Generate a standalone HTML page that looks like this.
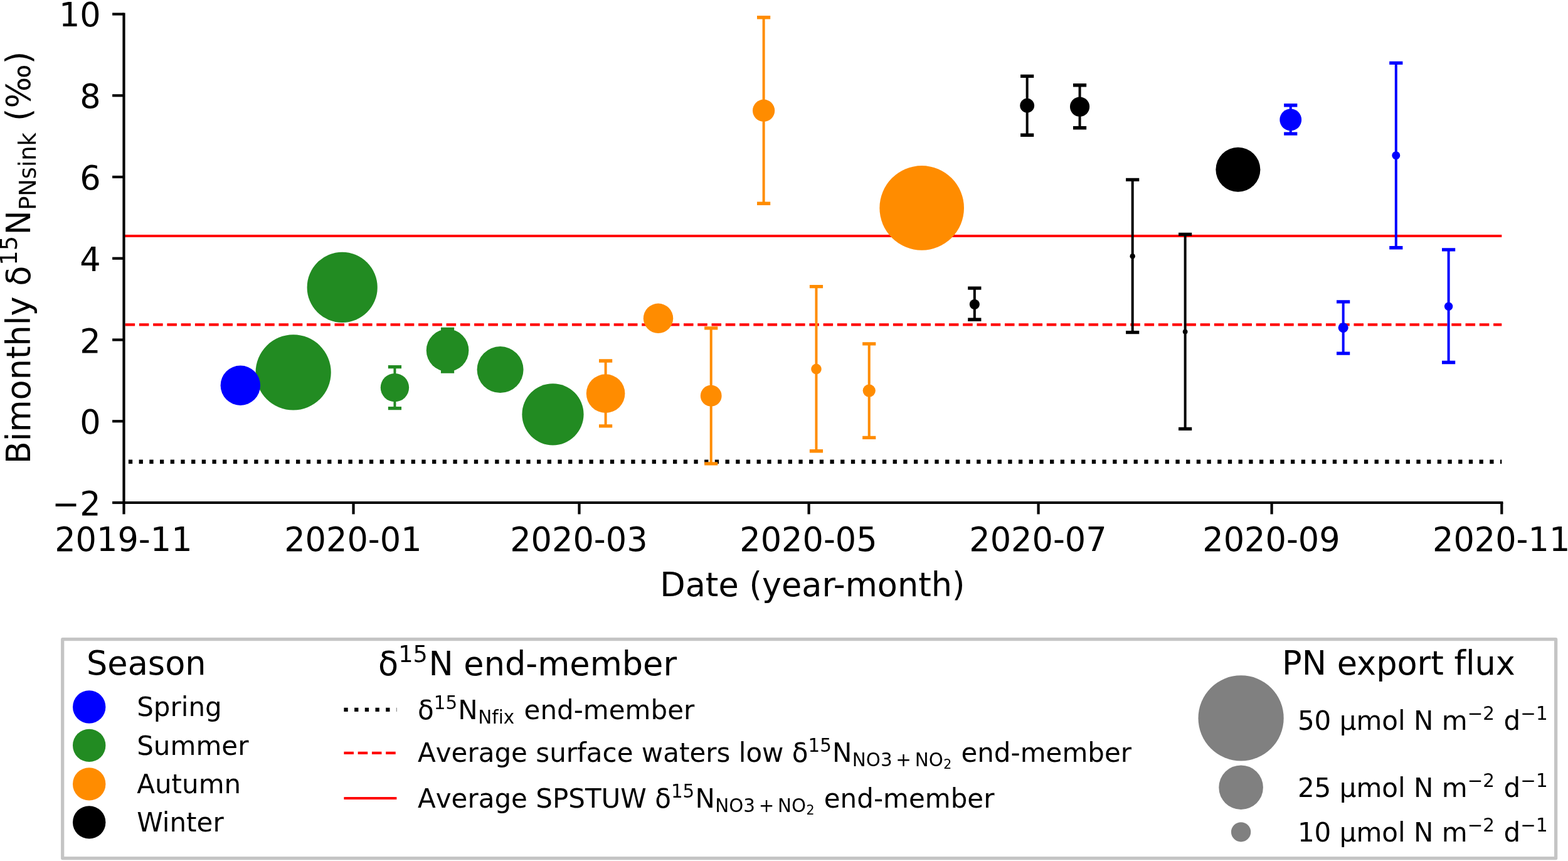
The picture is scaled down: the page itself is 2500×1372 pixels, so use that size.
<!DOCTYPE html>
<html lang="en"><head><meta charset="utf-8"><title>Bimonthly δ15N PNsink</title>
<style>html,body{margin:0;padding:0;background:#fff;overflow:hidden}svg{display:block}text{font-family:'DejaVu Sans', 'Liberation Sans', sans-serif;fill:#000;font-variant-ligatures:none;font-feature-settings:"liga" 0,"clig" 0}.m{font-kerning:none}</style>
</head><body>
<svg width="2500" height="1372" viewBox="0 0 2500 1372">
<rect x="0" y="0" width="2500" height="1372" fill="#ffffff"/>
<g fill="none">
<line x1="197.50" y1="376.0" x2="2394.30" y2="376.0" stroke="#ff0000" stroke-width="4.20"/>
<line x1="199.6" y1="517.3" x2="2394.30" y2="517.3" stroke="#ff0000" stroke-width="4.20" stroke-dasharray="15.54 6.72"/>
<line x1="204.9" y1="735.75" x2="2394.30" y2="735.75" stroke="#000000" stroke-width="6.3" stroke-dasharray="6.3 10.395"/>
</g>
<g fill="none">
<path d="M629.45 584.60V650.60" stroke="#228b22" stroke-width="4.00"/>
<path d="M618.85 584.60h21.20M618.85 650.60h21.20" stroke="#228b22" stroke-width="5.35"/>
<path d="M713.55 524.50V592.10" stroke="#228b22" stroke-width="4.00"/>
<path d="M702.95 524.50h21.20M702.95 592.10h21.20" stroke="#228b22" stroke-width="5.35"/>
<path d="M965.61 575.00V678.90" stroke="#ff8c00" stroke-width="4.00"/>
<path d="M955.01 575.00h21.20M955.01 678.90h21.20" stroke="#ff8c00" stroke-width="5.35"/>
<path d="M1133.72 522.80V738.80" stroke="#ff8c00" stroke-width="4.00"/>
<path d="M1123.12 522.80h21.20M1123.12 738.80h21.20" stroke="#ff8c00" stroke-width="5.35"/>
<path d="M1217.62 27.75V324.20" stroke="#ff8c00" stroke-width="4.00"/>
<path d="M1207.02 27.75h21.20M1207.02 324.20h21.20" stroke="#ff8c00" stroke-width="5.35"/>
<path d="M1301.48 456.60V718.70" stroke="#ff8c00" stroke-width="4.00"/>
<path d="M1290.88 456.60h21.20M1290.88 718.70h21.20" stroke="#ff8c00" stroke-width="5.35"/>
<path d="M1385.73 547.90V697.30" stroke="#ff8c00" stroke-width="4.00"/>
<path d="M1375.13 547.90h21.20M1375.13 697.30h21.20" stroke="#ff8c00" stroke-width="5.35"/>
<path d="M1553.84 459.10V509.20" stroke="#000000" stroke-width="4.00"/>
<path d="M1543.24 459.10h21.20M1543.24 509.20h21.20" stroke="#000000" stroke-width="5.35"/>
<path d="M1637.66 121.30V215.20" stroke="#000000" stroke-width="4.00"/>
<path d="M1627.07 121.30h21.20M1627.07 215.20h21.20" stroke="#000000" stroke-width="5.35"/>
<path d="M1721.57 135.70V203.75" stroke="#000000" stroke-width="4.00"/>
<path d="M1710.97 135.70h21.20M1710.97 203.75h21.20" stroke="#000000" stroke-width="5.35"/>
<path d="M1805.70 286.30V529.60" stroke="#000000" stroke-width="4.00"/>
<path d="M1795.10 286.30h21.20M1795.10 529.60h21.20" stroke="#000000" stroke-width="5.35"/>
<path d="M1889.65 373.30V683.40" stroke="#000000" stroke-width="4.00"/>
<path d="M1879.05 373.30h21.20M1879.05 683.40h21.20" stroke="#000000" stroke-width="5.35"/>
<path d="M2057.76 167.70V213.10" stroke="#0000ff" stroke-width="4.00"/>
<path d="M2047.16 167.70h21.20M2047.16 213.10h21.20" stroke="#0000ff" stroke-width="5.35"/>
<path d="M2141.66 480.90V563.05" stroke="#0000ff" stroke-width="4.00"/>
<path d="M2131.06 480.90h21.20M2131.06 563.05h21.20" stroke="#0000ff" stroke-width="5.35"/>
<path d="M2225.81 100.40V394.70" stroke="#0000ff" stroke-width="4.00"/>
<path d="M2215.21 100.40h21.20M2215.21 394.70h21.20" stroke="#0000ff" stroke-width="5.35"/>
<path d="M2309.62 397.80V577.50" stroke="#0000ff" stroke-width="4.00"/>
<path d="M2299.02 397.80h21.20M2299.02 577.50h21.20" stroke="#0000ff" stroke-width="5.35"/>
</g>
<g>
<circle cx="467.64" cy="593.40" r="60.10" fill="#228b22"/>
<circle cx="545.67" cy="457.90" r="56.10" fill="#228b22"/>
<circle cx="629.45" cy="617.60" r="22.70" fill="#228b22"/>
<circle cx="713.55" cy="558.30" r="33.80" fill="#228b22"/>
<circle cx="797.56" cy="589.10" r="37.00" fill="#228b22"/>
<circle cx="881.46" cy="660.30" r="49.10" fill="#228b22"/>
<circle cx="965.61" cy="627.10" r="30.80" fill="#ff8c00"/>
<circle cx="1049.52" cy="507.30" r="23.70" fill="#ff8c00"/>
<circle cx="1133.72" cy="630.70" r="16.90" fill="#ff8c00"/>
<circle cx="1217.62" cy="176.20" r="17.60" fill="#ff8c00"/>
<circle cx="1301.48" cy="588.10" r="8.30" fill="#ff8c00"/>
<circle cx="1385.73" cy="622.60" r="10.10" fill="#ff8c00"/>
<circle cx="1469.68" cy="331.40" r="67.30" fill="#ff8c00"/>
<circle cx="1553.84" cy="484.95" r="8.05" fill="#000000"/>
<circle cx="1637.66" cy="168.20" r="11.40" fill="#000000"/>
<circle cx="1721.57" cy="170.10" r="15.60" fill="#000000"/>
<circle cx="1805.70" cy="408.20" r="4.25" fill="#000000"/>
<circle cx="1889.65" cy="528.60" r="3.90" fill="#000000"/>
<circle cx="1973.90" cy="270.25" r="35.50" fill="#000000"/>
<circle cx="2057.76" cy="190.90" r="17.40" fill="#0000ff"/>
<circle cx="2141.66" cy="522.15" r="8.00" fill="#0000ff"/>
<circle cx="2225.81" cy="247.65" r="6.50" fill="#0000ff"/>
<circle cx="2309.62" cy="488.30" r="6.70" fill="#0000ff"/>
<circle cx="383.34" cy="614.20" r="31.70" fill="#0000ff"/>
</g>
<g fill="none" stroke="#000" stroke-width="4.20">
<path d="M197.50 20.40V803.10"/>
<path d="M195.40 801.00H2396.40"/>
<path d="M179.10 801.00h18.40"/>
<path d="M179.10 671.25h18.40"/>
<path d="M179.10 541.50h18.40"/>
<path d="M179.10 411.75h18.40"/>
<path d="M179.10 282.00h18.40"/>
<path d="M179.10 152.25h18.40"/>
<path d="M179.10 22.50h18.40"/>
<path d="M197.50 801.00v18.40"/>
<path d="M563.50 801.00v18.40"/>
<path d="M923.50 801.00v18.40"/>
<path d="M1289.60 801.00v18.40"/>
<path d="M1655.60 801.00v18.40"/>
<path d="M2027.60 801.00v18.40"/>
<path d="M2394.30 801.00v18.40"/>
</g>
<g font-size="52.50">
<text x="160.7" y="820.50" text-anchor="end">−2</text>
<text x="160.7" y="691.35" text-anchor="end">0</text>
<text x="160.7" y="561.90" text-anchor="end">2</text>
<text x="160.7" y="432.45" text-anchor="end">4</text>
<text x="160.7" y="302.00" text-anchor="end">6</text>
<text x="160.7" y="172.35" text-anchor="end">8</text>
<text x="160.7" y="42.20" text-anchor="end">10</text>
<text x="196.90" y="877.7" text-anchor="middle">2019-11</text>
<text x="562.90" y="877.7" text-anchor="middle">2020-01</text>
<text x="922.90" y="877.7" text-anchor="middle">2020-03</text>
<text x="1289.00" y="877.7" text-anchor="middle">2020-05</text>
<text x="1655.00" y="877.7" text-anchor="middle">2020-07</text>
<text x="2027.00" y="877.7" text-anchor="middle">2020-09</text>
<text x="2393.70" y="877.7" text-anchor="middle">2020-11</text>
<text x="1295.4" y="950.0" text-anchor="middle">Date (year-month)</text>
<text class="m" transform="translate(48.3 739.15) rotate(-90)" x="0" y="0">Bimonthly δ<tspan font-size="36.75" dy="-21.0" dx="1.0">15</tspan><tspan dy="21.0" dx="1.5">N</tspan><tspan font-size="36.75" dy="8.5" dx="0.3">PNsink</tspan><tspan dy="-8.5" dx="1.5"> (‰)</tspan></text>
</g>
<rect x="99.7" y="1018.6" width="2380.95" height="349.0" fill="#ffffff" stroke="#c4c4c4" stroke-width="5.25" stroke-linejoin="round"/>
<g>
<text x="138.0" y="1074.6" font-size="52.50">Season</text>
<circle cx="142.2" cy="1126.50" r="26.2" fill="#0000ff"/>
<text x="218.2" y="1141.30" font-size="42.00">Spring</text>
<circle cx="142.2" cy="1187.90" r="26.2" fill="#228b22"/>
<text x="218.2" y="1202.70" font-size="42.00">Summer</text>
<circle cx="142.2" cy="1249.40" r="26.2" fill="#ff8c00"/>
<text x="218.2" y="1264.00" font-size="42.00">Autumn</text>
<circle cx="142.2" cy="1310.40" r="26.2" fill="#000000"/>
<text x="218.2" y="1325.30" font-size="42.00">Winter</text>
</g>
<g>
<text class="m" x="603.0" y="1076.4" font-size="52.50">δ<tspan font-size="36.75" dy="-21.0">15</tspan><tspan dy="21.0" dx="1.5">N end-member</tspan></text>
<g fill="none">
<line x1="548.4" y1="1130.8" x2="632.4" y2="1130.8" stroke="#000" stroke-width="6.3" stroke-dasharray="6.3 10.395"/>
<line x1="548.4" y1="1199.8" x2="632.4" y2="1199.8" stroke="#ff0000" stroke-width="4.20" stroke-dasharray="15.54 6.72"/>
<line x1="548.4" y1="1272.0" x2="632.4" y2="1272.0" stroke="#ff0000" stroke-width="4.20"/>
</g>
<text class="m" x="666.0" y="1145.7" font-size="42.00">δ<tspan font-size="29.40" dy="-15.8">15</tspan><tspan dy="15.8" dx="1.2">N</tspan><tspan font-size="29.40" dy="7.0" dx="0.6">Nfix</tspan><tspan dy="-7.0" dx="2.0"> end-member</tspan></text>
<text class="m" x="666.0" y="1214.1" font-size="42.00">Average surface waters low δ<tspan font-size="29.40" dy="-15.8">15</tspan><tspan dy="15.8" dx="1.2">N</tspan><tspan font-size="29.40" dy="7.0" dx="0.3">NO3</tspan><tspan font-size="29.40" dx="5.7">+</tspan><tspan font-size="29.40" dx="5.7">NO</tspan><tspan font-size="20.58" dy="4.3" dx="0.3">2</tspan><tspan dy="-11.3" dx="1.8"> end-member</tspan></text>
<text class="m" x="666.0" y="1286.7" font-size="42.00">Average SPSTUW δ<tspan font-size="29.40" dy="-15.8">15</tspan><tspan dy="15.8" dx="1.2">N</tspan><tspan font-size="29.40" dy="7.0" dx="0.3">NO3</tspan><tspan font-size="29.40" dx="5.7">+</tspan><tspan font-size="29.40" dx="5.7">NO</tspan><tspan font-size="20.58" dy="4.3" dx="0.3">2</tspan><tspan dy="-11.3" dx="1.8"> end-member</tspan></text>
</g>
<g>
<text x="2044.1" y="1074.7" font-size="52.50">PN export flux</text>
<circle cx="1978.6" cy="1144.40" r="68.10" fill="#808080"/>
<text class="m" x="2068.9" y="1163.10" font-size="42.00">50 µmol N m<tspan font-size="29.40" dy="-15.8">−2</tspan><tspan dy="15.8" dx="1.2"> d</tspan><tspan font-size="29.40" dy="-15.8">−1</tspan></text>
<circle cx="1978.6" cy="1254.70" r="35.30" fill="#808080"/>
<text class="m" x="2068.9" y="1270.25" font-size="42.00">25 µmol N m<tspan font-size="29.40" dy="-15.8">−2</tspan><tspan dy="15.8" dx="1.2"> d</tspan><tspan font-size="29.40" dy="-15.8">−1</tspan></text>
<circle cx="1978.6" cy="1325.80" r="15.65" fill="#808080"/>
<text class="m" x="2068.9" y="1341.20" font-size="42.00">10 µmol N m<tspan font-size="29.40" dy="-15.8">−2</tspan><tspan dy="15.8" dx="1.2"> d</tspan><tspan font-size="29.40" dy="-15.8">−1</tspan></text>
</g>
</svg>
</body></html>
